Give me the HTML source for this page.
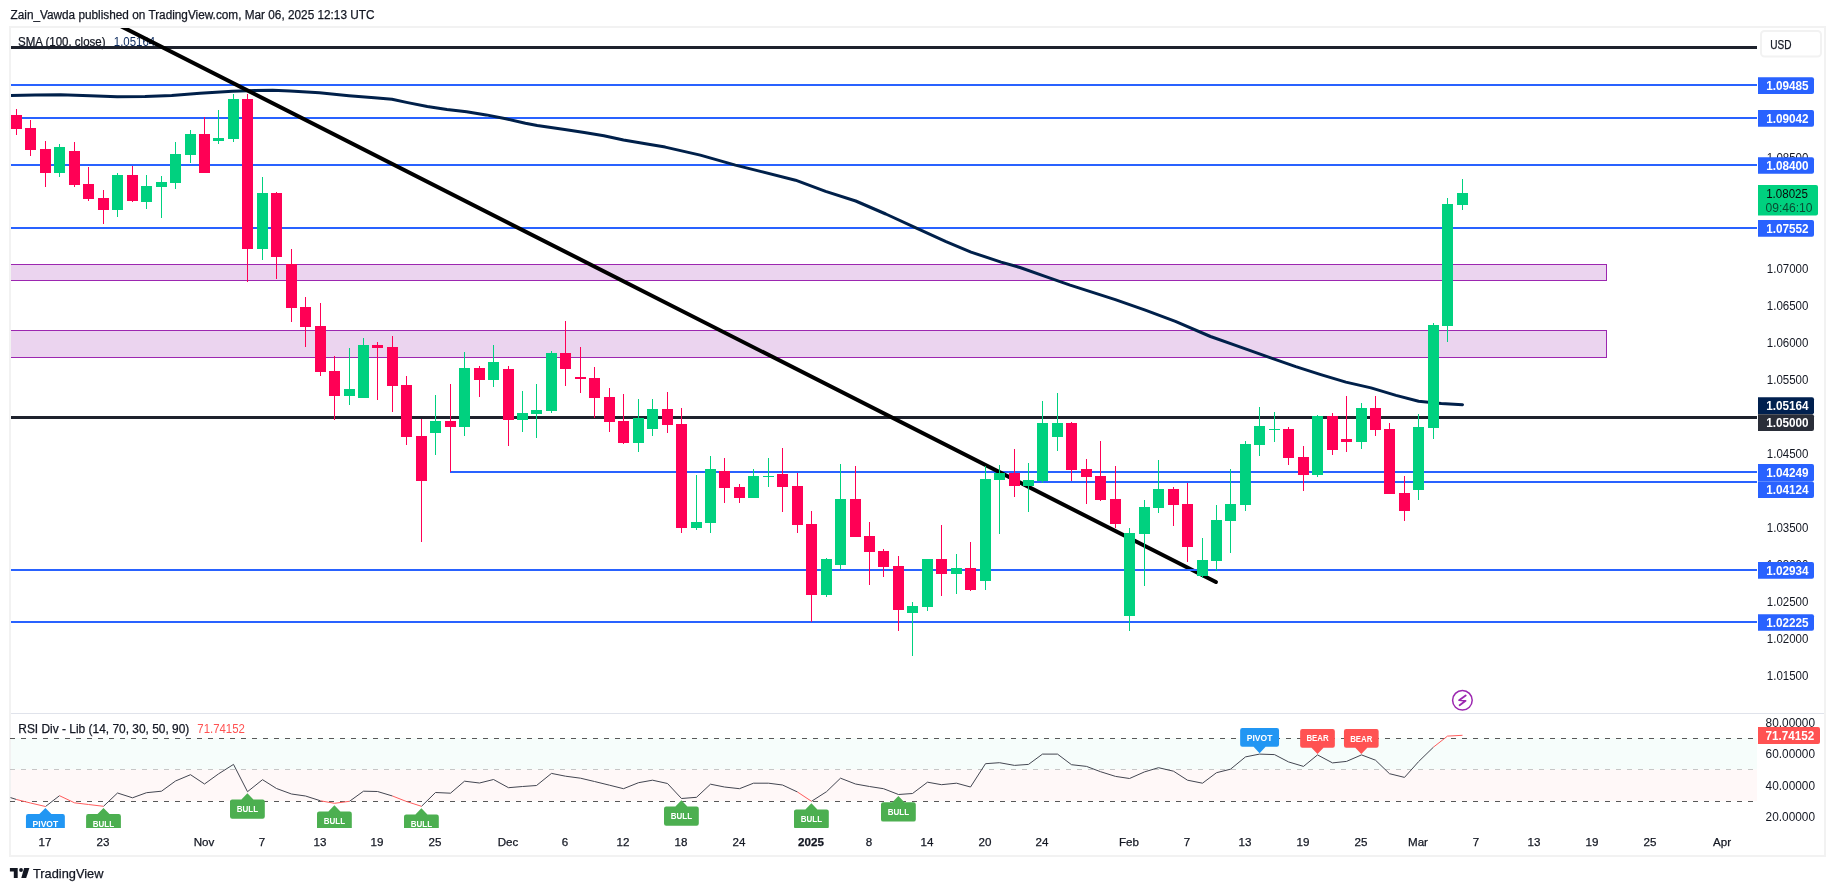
<!DOCTYPE html>
<html><head><meta charset="utf-8"><title>EURUSD chart</title>
<style>html,body{margin:0;padding:0;background:#fff}body{width:1835px;height:891px;position:relative;overflow:hidden;font-family:"Liberation Sans", sans-serif}</style>
</head><body>
<svg width="1835" height="891" viewBox="0 0 1835 891" style="position:absolute;left:0;top:0;will-change:transform" font-family='"Liberation Sans", sans-serif'>
<rect width="1835" height="891" fill="#fff"/>
<text x="10.5" y="19.2" font-size="12" fill="#131722" stroke="#131722" stroke-width="0.25" textLength="364" lengthAdjust="spacingAndGlyphs">Zain_Vawda published on TradingView.com, Mar 06, 2025 12:13 UTC</text>
<rect x="10" y="27" width="1815" height="829" fill="none" stroke="#f2f2f2" stroke-width="2"/>
<text x="18" y="45.6" font-size="12" fill="#131722" stroke="#131722" stroke-width="0.25" textLength="87.5" lengthAdjust="spacingAndGlyphs">SMA (100, close)</text>
<text x="113.8" y="45.6" font-size="12" fill="#0c2a5e" textLength="41.4" lengthAdjust="spacingAndGlyphs">1.05164</text>
<g>
<rect x="11" y="738" width="1746" height="31.5" fill="#f6fdfb"/>
<rect x="11" y="769.5" width="1746" height="31.5" fill="#fff8f8"/>
<line x1="10" y1="738.5" x2="1757" y2="738.5" stroke="#585858" stroke-width="1" stroke-dasharray="5 6"/>
<line x1="10" y1="769.5" x2="1757" y2="769.5" stroke="#c6c6c6" stroke-width="1" stroke-dasharray="5 6"/>
<line x1="10" y1="801.5" x2="1757" y2="801.5" stroke="#585858" stroke-width="1" stroke-dasharray="5 6"/>
<text x="18.3" y="732.8" font-size="12" fill="#131722" stroke="#131722" stroke-width="0.25" textLength="171" lengthAdjust="spacingAndGlyphs">RSI Div - Lib (14, 70, 30, 50, 90)</text>
<text x="197.3" y="732.8" font-size="12" fill="#ff5252" textLength="47.6" lengthAdjust="spacingAndGlyphs">71.74152</text>
<polyline fill="none" stroke="#434651" stroke-width="1" stroke-linejoin="round" points="10.5,797.6 16.5,799.5"/>
<polyline fill="none" stroke="#434651" stroke-width="1" stroke-linejoin="round" points="45.5,806.5 59.5,795.7"/>
<polyline fill="none" stroke="#434651" stroke-width="1" stroke-linejoin="round" points="103.5,806.3 117.5,793.0 132.5,797.8 146.5,792.7 161.5,791.2 175.5,781.0 190.5,774.7 204.5,784.0 218.5,773.9 233.5,764.4 247.5,791.7 262.5,779.7 276.5,788.5 291.5,794.0 305.5,796.0 320.5,800.8"/>
<polyline fill="none" stroke="#434651" stroke-width="1" stroke-linejoin="round" points="349.5,801.3 363.5,791.2 377.5,791.5 392.5,796.0"/>
<polyline fill="none" stroke="#434651" stroke-width="1" stroke-linejoin="round" points="421.5,806.3 435.5,792.5 450.5,793.2 464.5,781.2 479.5,783.0 493.5,779.5 508.5,787.7 522.5,786.5 536.5,785.5 551.5,773.4 565.5,776.2 580.5,778.2 594.5,781.5 609.5,785.2 623.5,788.7 638.5,782.7 652.5,780.2 667.5,783.5 681.5,798.5 696.5,797.3 710.5,784.2 724.5,787.0 739.5,788.7 753.5,783.2 768.5,783.2 782.5,785.0 797.5,792.0"/>
<polyline fill="none" stroke="#434651" stroke-width="1" stroke-linejoin="round" points="811.5,801.3 826.5,791.7 840.5,778.2 855.5,784.0 869.5,786.5 883.5,788.7 898.5,794.5 912.5,793.5 927.5,782.2 941.5,784.7 956.5,783.2 970.5,787.0 985.5,763.7 999.5,762.7 1014.5,765.4 1028.5,764.4 1042.5,754.1 1057.5,754.1 1071.5,764.7 1086.5,766.4 1100.5,771.7 1115.5,776.4 1129.5,778.5 1144.5,771.9 1158.5,767.7 1173.5,771.2 1187.5,780.2 1202.5,783.2 1216.5,772.7 1230.5,769.2 1245.5,756.9 1259.5,754.1 1274.5,754.6 1288.5,761.9 1303.5,766.4 1317.5,754.9 1332.5,762.9 1346.5,761.4 1361.5,754.9 1375.5,760.2 1389.5,773.7 1404.5,777.4 1418.5,761.7 1433.5,747.1"/>
<polyline fill="none" stroke="#ff5c5c" stroke-width="1" stroke-linejoin="round" points="16.5,799.5 30.5,803.0 45.5,806.5"/>
<polyline fill="none" stroke="#ff5c5c" stroke-width="1" stroke-linejoin="round" points="59.5,795.7 74.5,802.8 88.5,804.5 103.5,806.3"/>
<polyline fill="none" stroke="#ff5c5c" stroke-width="1" stroke-linejoin="round" points="320.5,800.8 334.5,803.3 349.5,801.3"/>
<polyline fill="none" stroke="#ff5c5c" stroke-width="1" stroke-linejoin="round" points="392.5,796.0 406.5,801.5 421.5,806.3"/>
<polyline fill="none" stroke="#ff5c5c" stroke-width="1" stroke-linejoin="round" points="797.5,792.0 811.5,801.3"/>
<polyline fill="none" stroke="#ff5c5c" stroke-width="1" stroke-linejoin="round" points="1433.5,747.1 1447.5,736.1 1462.5,735.3"/>
</g>
<defs><clipPath id="cp"><rect x="11" y="28" width="1746" height="685"/></clipPath></defs>
<rect x="5.5" y="264.5" width="1601.0" height="16.0" fill="#ebd4ef" stroke="#9c27b0" stroke-width="1" clip-path="url(#cp)"/>
<rect x="5.5" y="330.5" width="1601.0" height="27.0" fill="#ebd4ef" stroke="#9c27b0" stroke-width="1" clip-path="url(#cp)"/>
<line x1="11" y1="85" x2="1757" y2="85" stroke="#2962ff" stroke-width="2"/>
<line x1="11" y1="118" x2="1757" y2="118" stroke="#2962ff" stroke-width="2"/>
<line x1="11" y1="165" x2="1757" y2="165" stroke="#2962ff" stroke-width="2"/>
<line x1="11" y1="228" x2="1757" y2="228" stroke="#2962ff" stroke-width="2"/>
<line x1="450" y1="472" x2="1757" y2="472" stroke="#2962ff" stroke-width="2"/>
<line x1="1029" y1="482" x2="1757" y2="482" stroke="#2962ff" stroke-width="2"/>
<line x1="11" y1="622" x2="1757" y2="622" stroke="#2962ff" stroke-width="2"/>
<line x1="11" y1="47.5" x2="1757" y2="47.5" stroke="#1e222d" stroke-width="3"/>
<line x1="11" y1="417.5" x2="1757" y2="417.5" stroke="#1e222d" stroke-width="3"/>
<path id="sma" fill="none" stroke="#00204a" stroke-width="3" stroke-linecap="round" stroke-linejoin="round" clip-path="url(#cp)" d="M10,95.6 L35,95.1 L60.6,94.8 L90,95.8 L117.2,96.8 L145,96.4 L171.7,95.4 L200,93.3 L232.3,91.3 L255,90.5 L272.7,90.2 L290,90.9 L319.4,92.8 L348.9,95.7 L374.4,97.7 L392,99.2 L407.7,102.6 L427.3,106.5 L447,109.4 L466.6,111.8 L486.2,114.9 L505.8,118.8 L525.4,123.2 L537.2,125.5 L564.7,129.4 L584.3,132.6 L603.9,135.8 L623.5,140 L650,144.6 L665.2,147.1 L700.3,155.1 L735.4,165.1 L760.4,171.4 L795.5,180.2 L825.6,191.4 L855.7,201 L885.8,214 L915.9,227.8 L946,241.6 L971,252.1 L1001.1,262.1 L1020,267.5 L1045.1,276.3 L1070.1,285.1 L1115.3,299.6 L1145.3,310.2 L1175.4,321.4 L1210.5,336.5 L1235.6,345.3 L1270.7,357.8 L1295.8,366.6 L1320.8,374.6 L1345.9,382.1 L1371,387.9 L1396,395.4 L1418.6,401.2 L1441.2,403.4 L1462.5,404.7"/>
<line x1="120.5" y1="26" x2="1215.9" y2="582" stroke="#000" stroke-width="4" stroke-linecap="round" clip-path="url(#cp)"/>
<line x1="11" y1="570" x2="1757" y2="570" stroke="#2962ff" stroke-width="2"/>
<rect x="16" y="109.0" width="1" height="26.0" fill="#ff0055"/>
<rect x="11" y="115.0" width="11" height="14.0" fill="#ff0055"/>
<rect x="30" y="120.0" width="1" height="36.0" fill="#ff0055"/>
<rect x="25" y="128.0" width="11" height="22.0" fill="#ff0055"/>
<rect x="45" y="141.0" width="1" height="46.0" fill="#ff0055"/>
<rect x="40" y="149.0" width="11" height="24.0" fill="#ff0055"/>
<rect x="59" y="144.0" width="1" height="33.0" fill="#00d17f"/>
<rect x="54" y="147.0" width="11" height="26.0" fill="#00d17f"/>
<rect x="74" y="142.0" width="1" height="45.0" fill="#ff0055"/>
<rect x="69" y="151.0" width="11" height="34.0" fill="#ff0055"/>
<rect x="88" y="167.0" width="1" height="34.0" fill="#ff0055"/>
<rect x="83" y="184.0" width="11" height="15.0" fill="#ff0055"/>
<rect x="103" y="190.0" width="1" height="34.0" fill="#ff0055"/>
<rect x="98" y="198.0" width="11" height="12.0" fill="#ff0055"/>
<rect x="117" y="173.0" width="1" height="44.0" fill="#00d17f"/>
<rect x="112" y="175.0" width="11" height="35.0" fill="#00d17f"/>
<rect x="132" y="166.0" width="1" height="36.0" fill="#ff0055"/>
<rect x="127" y="175.0" width="11" height="26.0" fill="#ff0055"/>
<rect x="146" y="175.0" width="1" height="34.0" fill="#00d17f"/>
<rect x="141" y="186.0" width="11" height="16.0" fill="#00d17f"/>
<rect x="161" y="176.0" width="1" height="42.0" fill="#00d17f"/>
<rect x="156" y="182.0" width="11" height="5.0" fill="#00d17f"/>
<rect x="175" y="142.0" width="1" height="47.0" fill="#00d17f"/>
<rect x="170" y="154.0" width="11" height="29.0" fill="#00d17f"/>
<rect x="190" y="130.0" width="1" height="33.0" fill="#00d17f"/>
<rect x="185" y="134.0" width="11" height="21.0" fill="#00d17f"/>
<rect x="204" y="117.0" width="1" height="56.0" fill="#ff0055"/>
<rect x="199" y="134.0" width="11" height="39.0" fill="#ff0055"/>
<rect x="218" y="110.0" width="1" height="34.0" fill="#00d17f"/>
<rect x="213" y="138.0" width="11" height="3.0" fill="#00d17f"/>
<rect x="233" y="94.0" width="1" height="48.0" fill="#00d17f"/>
<rect x="228" y="99.0" width="11" height="40.0" fill="#00d17f"/>
<rect x="247" y="94.0" width="1" height="188.0" fill="#ff0055"/>
<rect x="242" y="99.0" width="11" height="150.0" fill="#ff0055"/>
<rect x="262" y="177.0" width="1" height="83.0" fill="#00d17f"/>
<rect x="257" y="193.0" width="11" height="56.0" fill="#00d17f"/>
<rect x="276" y="192.0" width="1" height="87.0" fill="#ff0055"/>
<rect x="271" y="193.0" width="11" height="64.0" fill="#ff0055"/>
<rect x="291" y="249.0" width="1" height="73.0" fill="#ff0055"/>
<rect x="286" y="264.0" width="11" height="44.0" fill="#ff0055"/>
<rect x="305" y="297.0" width="1" height="50.0" fill="#ff0055"/>
<rect x="300" y="307.0" width="11" height="20.0" fill="#ff0055"/>
<rect x="320" y="303.0" width="1" height="73.0" fill="#ff0055"/>
<rect x="315" y="326.0" width="11" height="46.0" fill="#ff0055"/>
<rect x="334" y="356.0" width="1" height="64.0" fill="#ff0055"/>
<rect x="329" y="371.0" width="11" height="25.0" fill="#ff0055"/>
<rect x="349" y="348.0" width="1" height="57.0" fill="#00d17f"/>
<rect x="344" y="389.0" width="11" height="7.0" fill="#00d17f"/>
<rect x="363" y="338.0" width="1" height="60.0" fill="#00d17f"/>
<rect x="358" y="345.0" width="11" height="53.0" fill="#00d17f"/>
<rect x="377" y="342.0" width="1" height="58.0" fill="#ff0055"/>
<rect x="372" y="345.0" width="11" height="3.0" fill="#ff0055"/>
<rect x="392" y="336.0" width="1" height="76.0" fill="#ff0055"/>
<rect x="387" y="347.0" width="11" height="39.0" fill="#ff0055"/>
<rect x="406" y="376.0" width="1" height="69.0" fill="#ff0055"/>
<rect x="401" y="385.0" width="11" height="52.0" fill="#ff0055"/>
<rect x="421" y="419.0" width="1" height="123.0" fill="#ff0055"/>
<rect x="416" y="436.0" width="11" height="45.0" fill="#ff0055"/>
<rect x="435" y="395.0" width="1" height="60.0" fill="#00d17f"/>
<rect x="430" y="421.0" width="11" height="12.0" fill="#00d17f"/>
<rect x="450" y="384.0" width="1" height="88.0" fill="#ff0055"/>
<rect x="445" y="421.0" width="11" height="6.0" fill="#ff0055"/>
<rect x="464" y="352.0" width="1" height="84.0" fill="#00d17f"/>
<rect x="459" y="368.0" width="11" height="59.0" fill="#00d17f"/>
<rect x="479" y="366.0" width="1" height="31.0" fill="#ff0055"/>
<rect x="474" y="368.0" width="11" height="12.0" fill="#ff0055"/>
<rect x="493" y="345.0" width="1" height="42.0" fill="#00d17f"/>
<rect x="488" y="362.0" width="11" height="18.0" fill="#00d17f"/>
<rect x="508" y="366.0" width="1" height="80.0" fill="#ff0055"/>
<rect x="503" y="369.0" width="11" height="51.0" fill="#ff0055"/>
<rect x="522" y="391.0" width="1" height="41.0" fill="#00d17f"/>
<rect x="517" y="413.0" width="11" height="7.0" fill="#00d17f"/>
<rect x="536" y="384.0" width="1" height="54.0" fill="#00d17f"/>
<rect x="531" y="410.0" width="11" height="4.0" fill="#00d17f"/>
<rect x="551" y="351.0" width="1" height="62.0" fill="#00d17f"/>
<rect x="546" y="353.0" width="11" height="58.0" fill="#00d17f"/>
<rect x="565" y="321.0" width="1" height="65.0" fill="#ff0055"/>
<rect x="560" y="353.0" width="11" height="16.0" fill="#ff0055"/>
<rect x="580" y="347.0" width="1" height="46.0" fill="#ff0055"/>
<rect x="575" y="377.0" width="11" height="2.0" fill="#ff0055"/>
<rect x="594" y="367.0" width="1" height="51.0" fill="#ff0055"/>
<rect x="589" y="378.0" width="11" height="20.0" fill="#ff0055"/>
<rect x="609" y="388.0" width="1" height="44.0" fill="#ff0055"/>
<rect x="604" y="397.0" width="11" height="25.0" fill="#ff0055"/>
<rect x="623" y="394.0" width="1" height="50.0" fill="#ff0055"/>
<rect x="618" y="421.0" width="11" height="22.0" fill="#ff0055"/>
<rect x="638" y="399.0" width="1" height="53.0" fill="#00d17f"/>
<rect x="633" y="418.0" width="11" height="25.0" fill="#00d17f"/>
<rect x="652" y="399.0" width="1" height="37.0" fill="#00d17f"/>
<rect x="647" y="409.0" width="11" height="20.0" fill="#00d17f"/>
<rect x="667" y="392.0" width="1" height="41.0" fill="#ff0055"/>
<rect x="662" y="409.0" width="11" height="16.0" fill="#ff0055"/>
<rect x="681" y="408.0" width="1" height="125.0" fill="#ff0055"/>
<rect x="676" y="424.0" width="11" height="104.0" fill="#ff0055"/>
<rect x="696" y="475.0" width="1" height="55.0" fill="#00d17f"/>
<rect x="691" y="522.0" width="11" height="6.0" fill="#00d17f"/>
<rect x="710" y="456.0" width="1" height="77.0" fill="#00d17f"/>
<rect x="705" y="469.0" width="11" height="54.0" fill="#00d17f"/>
<rect x="724" y="458.0" width="1" height="45.0" fill="#ff0055"/>
<rect x="719" y="471.0" width="11" height="17.0" fill="#ff0055"/>
<rect x="739" y="484.0" width="1" height="19.0" fill="#ff0055"/>
<rect x="734" y="487.0" width="11" height="11.0" fill="#ff0055"/>
<rect x="753" y="469.0" width="1" height="29.0" fill="#00d17f"/>
<rect x="748" y="476.0" width="11" height="22.0" fill="#00d17f"/>
<rect x="768" y="458.0" width="1" height="29.0" fill="#00d17f"/>
<rect x="763" y="476.0" width="11" height="1.0" fill="#00d17f"/>
<rect x="782" y="448.0" width="1" height="64.0" fill="#ff0055"/>
<rect x="777" y="474.0" width="11" height="13.0" fill="#ff0055"/>
<rect x="797" y="473.0" width="1" height="60.0" fill="#ff0055"/>
<rect x="792" y="486.0" width="11" height="39.0" fill="#ff0055"/>
<rect x="811" y="511.0" width="1" height="111.0" fill="#ff0055"/>
<rect x="806" y="524.0" width="11" height="71.0" fill="#ff0055"/>
<rect x="826" y="558.0" width="1" height="39.0" fill="#00d17f"/>
<rect x="821" y="559.0" width="11" height="36.0" fill="#00d17f"/>
<rect x="840" y="464.0" width="1" height="105.0" fill="#00d17f"/>
<rect x="835" y="499.0" width="11" height="66.0" fill="#00d17f"/>
<rect x="855" y="466.0" width="1" height="71.0" fill="#ff0055"/>
<rect x="850" y="499.0" width="11" height="38.0" fill="#ff0055"/>
<rect x="869" y="522.0" width="1" height="63.0" fill="#ff0055"/>
<rect x="864" y="536.0" width="11" height="16.0" fill="#ff0055"/>
<rect x="883" y="549.0" width="1" height="28.0" fill="#ff0055"/>
<rect x="878" y="551.0" width="11" height="16.0" fill="#ff0055"/>
<rect x="898" y="556.0" width="1" height="75.0" fill="#ff0055"/>
<rect x="893" y="566.0" width="11" height="44.0" fill="#ff0055"/>
<rect x="912" y="602.0" width="1" height="54.0" fill="#00d17f"/>
<rect x="907" y="606.0" width="11" height="7.0" fill="#00d17f"/>
<rect x="927" y="559.0" width="1" height="52.0" fill="#00d17f"/>
<rect x="922" y="559.0" width="11" height="48.0" fill="#00d17f"/>
<rect x="941" y="525.0" width="1" height="71.0" fill="#ff0055"/>
<rect x="936" y="559.0" width="11" height="15.0" fill="#ff0055"/>
<rect x="956" y="554.0" width="1" height="40.0" fill="#00d17f"/>
<rect x="951" y="568.0" width="11" height="6.0" fill="#00d17f"/>
<rect x="970" y="542.0" width="1" height="49.0" fill="#ff0055"/>
<rect x="965" y="568.0" width="11" height="22.0" fill="#ff0055"/>
<rect x="985" y="466.0" width="1" height="124.0" fill="#00d17f"/>
<rect x="980" y="479.0" width="11" height="102.0" fill="#00d17f"/>
<rect x="999" y="465.0" width="1" height="69.0" fill="#00d17f"/>
<rect x="994" y="473.0" width="11" height="7.0" fill="#00d17f"/>
<rect x="1014" y="449.0" width="1" height="48.0" fill="#ff0055"/>
<rect x="1009" y="473.0" width="11" height="13.0" fill="#ff0055"/>
<rect x="1028" y="463.0" width="1" height="49.0" fill="#00d17f"/>
<rect x="1023" y="480.0" width="11" height="6.0" fill="#00d17f"/>
<rect x="1042" y="401.0" width="1" height="82.0" fill="#00d17f"/>
<rect x="1037" y="423.0" width="11" height="58.0" fill="#00d17f"/>
<rect x="1057" y="393.0" width="1" height="58.0" fill="#00d17f"/>
<rect x="1052" y="423.0" width="11" height="14.0" fill="#00d17f"/>
<rect x="1071" y="422.0" width="1" height="59.0" fill="#ff0055"/>
<rect x="1066" y="423.0" width="11" height="47.0" fill="#ff0055"/>
<rect x="1086" y="459.0" width="1" height="45.0" fill="#ff0055"/>
<rect x="1081" y="469.0" width="11" height="8.0" fill="#ff0055"/>
<rect x="1100" y="441.0" width="1" height="60.0" fill="#ff0055"/>
<rect x="1095" y="476.0" width="11" height="24.0" fill="#ff0055"/>
<rect x="1115" y="466.0" width="1" height="62.0" fill="#ff0055"/>
<rect x="1110" y="499.0" width="11" height="25.0" fill="#ff0055"/>
<rect x="1129" y="528.0" width="1" height="103.0" fill="#00d17f"/>
<rect x="1124" y="533.0" width="11" height="83.0" fill="#00d17f"/>
<rect x="1144" y="500.0" width="1" height="86.0" fill="#00d17f"/>
<rect x="1139" y="507.0" width="11" height="27.0" fill="#00d17f"/>
<rect x="1158" y="460.0" width="1" height="53.0" fill="#00d17f"/>
<rect x="1153" y="489.0" width="11" height="19.0" fill="#00d17f"/>
<rect x="1173" y="487.0" width="1" height="39.0" fill="#ff0055"/>
<rect x="1168" y="489.0" width="11" height="16.0" fill="#ff0055"/>
<rect x="1187" y="483.0" width="1" height="79.0" fill="#ff0055"/>
<rect x="1182" y="504.0" width="11" height="43.0" fill="#ff0055"/>
<rect x="1202" y="538.0" width="1" height="40.0" fill="#00d17f"/>
<rect x="1197" y="560.0" width="11" height="16.0" fill="#00d17f"/>
<rect x="1216" y="505.0" width="1" height="66.0" fill="#00d17f"/>
<rect x="1211" y="520.0" width="11" height="41.0" fill="#00d17f"/>
<rect x="1230" y="469.0" width="1" height="84.0" fill="#00d17f"/>
<rect x="1225" y="504.0" width="11" height="17.0" fill="#00d17f"/>
<rect x="1245" y="441.0" width="1" height="70.0" fill="#00d17f"/>
<rect x="1240" y="444.0" width="11" height="61.0" fill="#00d17f"/>
<rect x="1259" y="407.0" width="1" height="49.0" fill="#00d17f"/>
<rect x="1254" y="426.0" width="11" height="19.0" fill="#00d17f"/>
<rect x="1274" y="412.0" width="1" height="30.0" fill="#00d17f"/>
<rect x="1269" y="429.0" width="11" height="1.0" fill="#00d17f"/>
<rect x="1288" y="427.0" width="1" height="38.0" fill="#ff0055"/>
<rect x="1283" y="429.0" width="11" height="29.0" fill="#ff0055"/>
<rect x="1303" y="446.0" width="1" height="45.0" fill="#ff0055"/>
<rect x="1298" y="457.0" width="11" height="18.0" fill="#ff0055"/>
<rect x="1317" y="415.0" width="1" height="62.0" fill="#00d17f"/>
<rect x="1312" y="416.0" width="11" height="59.0" fill="#00d17f"/>
<rect x="1332" y="413.0" width="1" height="42.0" fill="#ff0055"/>
<rect x="1327" y="416.0" width="11" height="34.0" fill="#ff0055"/>
<rect x="1346" y="396.0" width="1" height="56.0" fill="#ff0055"/>
<rect x="1341" y="439.0" width="11" height="3.0" fill="#ff0055"/>
<rect x="1361" y="403.0" width="1" height="46.0" fill="#00d17f"/>
<rect x="1356" y="408.0" width="11" height="34.0" fill="#00d17f"/>
<rect x="1375" y="396.0" width="1" height="40.0" fill="#ff0055"/>
<rect x="1370" y="408.0" width="11" height="22.0" fill="#ff0055"/>
<rect x="1389" y="423.0" width="1" height="71.0" fill="#ff0055"/>
<rect x="1384" y="429.0" width="11" height="65.0" fill="#ff0055"/>
<rect x="1404" y="476.0" width="1" height="45.0" fill="#ff0055"/>
<rect x="1399" y="493.0" width="11" height="18.0" fill="#ff0055"/>
<rect x="1418" y="414.0" width="1" height="86.0" fill="#00d17f"/>
<rect x="1413" y="427.0" width="11" height="63.0" fill="#00d17f"/>
<rect x="1433" y="323.0" width="1" height="116.0" fill="#00d17f"/>
<rect x="1428" y="325.0" width="11" height="103.0" fill="#00d17f"/>
<rect x="1447" y="198.0" width="1" height="144.0" fill="#00d17f"/>
<rect x="1442" y="204.0" width="11" height="122.0" fill="#00d17f"/>
<rect x="1462" y="179.0" width="1" height="31.0" fill="#00d17f"/>
<rect x="1457" y="193.0" width="11" height="12.0" fill="#00d17f"/>
<defs><clipPath id="cpr"><rect x="10" y="714" width="1747" height="114"/></clipPath></defs>
<g clip-path="url(#cpr)"><path d="M45.4,808 L51.4,814.1 H62.64999999999999 Q64.85,814.1 64.85,816.3000000000001 V831.1999999999999 Q64.85,833.4 62.64999999999999,833.4 H28.15 Q25.95,833.4 25.95,831.1999999999999 V816.3000000000001 Q25.95,814.1 28.15,814.1 H39.4 Z" fill="#2196f3"/><text x="32.6" y="826.8" font-size="9.3" font-weight="bold" fill="#fff" textLength="25.6" lengthAdjust="spacingAndGlyphs">PIVOT</text></g>
<g clip-path="url(#cpr)"><path d="M103.5,808 L109.5,814.1 H118.69999999999999 Q120.89999999999999,814.1 120.89999999999999,816.3000000000001 V831.1999999999999 Q120.89999999999999,833.4 118.69999999999999,833.4 H88.3 Q86.1,833.4 86.1,831.1999999999999 V816.3000000000001 Q86.1,814.1 88.3,814.1 H97.5 Z" fill="#4caf50"/><text x="92.8" y="826.8" font-size="9.3" font-weight="bold" fill="#fff" textLength="21.3" lengthAdjust="spacingAndGlyphs">BULL</text></g>
<g clip-path="url(#cpr)"><path d="M247.4,793.2 L253.4,799.5 H262.6 Q264.8,799.5 264.8,801.7 V816.5 Q264.8,818.7 262.6,818.7 H232.2 Q230.0,818.7 230.0,816.5 V801.7 Q230.0,799.5 232.2,799.5 H241.4 Z" fill="#4caf50"/><text x="236.8" y="812.2" font-size="9.3" font-weight="bold" fill="#fff" textLength="21.3" lengthAdjust="spacingAndGlyphs">BULL</text></g>
<g clip-path="url(#cpr)"><path d="M334.4,805.3 L340.4,811.5 H349.6 Q351.8,811.5 351.8,813.7 V828.5 Q351.8,830.7 349.6,830.7 H319.2 Q317.0,830.7 317.0,828.5 V813.7 Q317.0,811.5 319.2,811.5 H328.4 Z" fill="#4caf50"/><text x="323.8" y="824.2" font-size="9.3" font-weight="bold" fill="#fff" textLength="21.3" lengthAdjust="spacingAndGlyphs">BULL</text></g>
<g clip-path="url(#cpr)"><path d="M421.4,808.3 L427.4,814.5 H436.6 Q438.8,814.5 438.8,816.7 V831.5 Q438.8,833.7 436.6,833.7 H406.2 Q404.0,833.7 404.0,831.5 V816.7 Q404.0,814.5 406.2,814.5 H415.4 Z" fill="#4caf50"/><text x="410.8" y="827.2" font-size="9.3" font-weight="bold" fill="#fff" textLength="21.3" lengthAdjust="spacingAndGlyphs">BULL</text></g>
<g clip-path="url(#cpr)"><path d="M681.4,800.3 L687.4,806.5 H696.5999999999999 Q698.8,806.5 698.8,808.7 V823.5999999999999 Q698.8,825.8 696.5999999999999,825.8 H666.2 Q664.0,825.8 664.0,823.5999999999999 V808.7 Q664.0,806.5 666.2,806.5 H675.4 Z" fill="#4caf50"/><text x="670.8" y="819.2" font-size="9.3" font-weight="bold" fill="#fff" textLength="21.3" lengthAdjust="spacingAndGlyphs">BULL</text></g>
<g clip-path="url(#cpr)"><path d="M811.4,803.3 L817.4,809.4 H826.5999999999999 Q828.8,809.4 828.8,811.6 V826.4999999999999 Q828.8,828.6999999999999 826.5999999999999,828.6999999999999 H796.2 Q794.0,828.6999999999999 794.0,826.4999999999999 V811.6 Q794.0,809.4 796.2,809.4 H805.4 Z" fill="#4caf50"/><text x="800.8" y="822.1" font-size="9.3" font-weight="bold" fill="#fff" textLength="21.3" lengthAdjust="spacingAndGlyphs">BULL</text></g>
<g clip-path="url(#cpr)"><path d="M898.4,796 L904.4,802.3 H913.5999999999999 Q915.8,802.3 915.8,804.5 V819.3999999999999 Q915.8,821.5999999999999 913.5999999999999,821.5999999999999 H883.2 Q881.0,821.5999999999999 881.0,819.3999999999999 V804.5 Q881.0,802.3 883.2,802.3 H892.4 Z" fill="#4caf50"/><text x="887.8" y="815.0" font-size="9.3" font-weight="bold" fill="#fff" textLength="21.3" lengthAdjust="spacingAndGlyphs">BULL</text></g>
<g clip-path="url(#cpr)"><path d="M1259.6,753.2 L1253.6,746.8000000000001 H1242.35 Q1240.1499999999999,746.8000000000001 1240.1499999999999,744.6 V730.3000000000001 Q1240.1499999999999,728.1 1242.35,728.1 H1276.85 Q1279.05,728.1 1279.05,730.3000000000001 V744.6 Q1279.05,746.8000000000001 1276.85,746.8000000000001 H1265.6 Z" fill="#2196f3"/><text x="1246.8" y="740.8" font-size="9.3" font-weight="bold" fill="#fff" textLength="25.6" lengthAdjust="spacingAndGlyphs">PIVOT</text></g>
<g clip-path="url(#cpr)"><path d="M1317.5,754.1 L1311.5,747.8 H1302.3500000000001 Q1300.15,747.8 1300.15,745.5999999999999 V731.2 Q1300.15,729 1302.3500000000001,729 H1332.65 Q1334.8500000000001,729 1334.8500000000001,731.2 V745.5999999999999 Q1334.8500000000001,747.8 1332.65,747.8 H1323.5 Z" fill="#ff5252"/><text x="1306.4" y="740.9" font-size="9.3" font-weight="bold" fill="#fff" textLength="22.2" lengthAdjust="spacingAndGlyphs">BEAR</text></g>
<g clip-path="url(#cpr)"><path d="M1361.3,754.1 L1355.3,747.8 H1346.15 Q1343.95,747.8 1343.95,745.5999999999999 V731.2 Q1343.95,729 1346.15,729 H1376.45 Q1378.65,729 1378.65,731.2 V745.5999999999999 Q1378.65,747.8 1376.45,747.8 H1367.3 Z" fill="#ff5252"/><text x="1350.2" y="741.9" font-size="9.3" font-weight="bold" fill="#fff" textLength="22.2" lengthAdjust="spacingAndGlyphs">BEAR</text></g>
<circle cx="1462.4" cy="700.3" r="9.8" fill="#fff" stroke="#9c27b0" stroke-width="1.5"/>
<polyline points="1465.7,695.5 1459.1,700.2 1465.6,700.8 1459.6,705.3" fill="none" stroke="#9c27b0" stroke-width="1.8" stroke-linejoin="round" stroke-linecap="round"/>
<rect x="1757.5" y="28.5" width="66.5" height="826.5" fill="#fff"/>
<line x1="11" y1="713.5" x2="1824" y2="713.5" stroke="#e0e3eb" stroke-width="1"/>
<text x="1766.8" y="161.7" font-size="12" fill="#131722" textLength="41.6" lengthAdjust="spacingAndGlyphs">1.08500</text>
<text x="1766.8" y="272.7" font-size="12" fill="#131722" textLength="41.6" lengthAdjust="spacingAndGlyphs">1.07000</text>
<text x="1766.8" y="309.7" font-size="12" fill="#131722" textLength="41.6" lengthAdjust="spacingAndGlyphs">1.06500</text>
<text x="1766.8" y="346.7" font-size="12" fill="#131722" textLength="41.6" lengthAdjust="spacingAndGlyphs">1.06000</text>
<text x="1766.8" y="383.7" font-size="12" fill="#131722" textLength="41.6" lengthAdjust="spacingAndGlyphs">1.05500</text>
<text x="1766.8" y="457.7" font-size="12" fill="#131722" textLength="41.6" lengthAdjust="spacingAndGlyphs">1.04500</text>
<text x="1766.8" y="531.7" font-size="12" fill="#131722" textLength="41.6" lengthAdjust="spacingAndGlyphs">1.03500</text>
<text x="1766.8" y="568.7" font-size="12" fill="#131722" textLength="41.6" lengthAdjust="spacingAndGlyphs">1.03000</text>
<text x="1766.8" y="605.7" font-size="12" fill="#131722" textLength="41.6" lengthAdjust="spacingAndGlyphs">1.02500</text>
<text x="1766.8" y="642.7" font-size="12" fill="#131722" textLength="41.6" lengthAdjust="spacingAndGlyphs">1.02000</text>
<text x="1766.8" y="679.7" font-size="12" fill="#131722" textLength="41.6" lengthAdjust="spacingAndGlyphs">1.01500</text>
<text x="1765.6" y="726.9" font-size="12" fill="#131722" textLength="49.4" lengthAdjust="spacingAndGlyphs">80.00000</text>
<text x="1765.6" y="758.2" font-size="12" fill="#131722" textLength="49.4" lengthAdjust="spacingAndGlyphs">60.00000</text>
<text x="1765.6" y="789.9" font-size="12" fill="#131722" textLength="49.4" lengthAdjust="spacingAndGlyphs">40.00000</text>
<text x="1765.6" y="821.0" font-size="12" fill="#131722" textLength="49.4" lengthAdjust="spacingAndGlyphs">20.00000</text>
<path d="M1758,77.3 H1812 Q1814,77.3 1814,79.3 V91.9 Q1814,93.9 1812,93.9 H1758 Z" fill="#2962ff"/>
<text x="1766.2" y="89.9" font-size="12" font-weight="bold" fill="#fff" textLength="42.4" lengthAdjust="spacingAndGlyphs">1.09485</text>
<path d="M1758,110.1 H1812 Q1814,110.1 1814,112.1 V124.7 Q1814,126.7 1812,126.7 H1758 Z" fill="#2962ff"/>
<text x="1766.2" y="122.7" font-size="12" font-weight="bold" fill="#fff" textLength="42.4" lengthAdjust="spacingAndGlyphs">1.09042</text>
<path d="M1758,157.3 H1812 Q1814,157.3 1814,159.3 V171.7 Q1814,173.7 1812,173.7 H1758 Z" fill="#2962ff"/>
<text x="1766.2" y="169.8" font-size="12" font-weight="bold" fill="#fff" textLength="42.4" lengthAdjust="spacingAndGlyphs">1.08400</text>
<path d="M1758,220 H1812 Q1814,220 1814,222 V234.8 Q1814,236.8 1812,236.8 H1758 Z" fill="#2962ff"/>
<text x="1766.2" y="232.7" font-size="12" font-weight="bold" fill="#fff" textLength="42.4" lengthAdjust="spacingAndGlyphs">1.07552</text>
<path d="M1758,397.2 H1812 Q1814,397.2 1814,399.2 V412.3 Q1814,414.3 1812,414.3 H1758 Z" fill="#00204f"/>
<text x="1766.2" y="410.1" font-size="12" font-weight="bold" fill="#fff" textLength="42.4" lengthAdjust="spacingAndGlyphs">1.05164</text>
<path d="M1758,414.3 H1812 Q1814,414.3 1814,416.3 V429.1 Q1814,431.1 1812,431.1 H1758 Z" fill="#2a2e39"/>
<text x="1766.2" y="427.0" font-size="12" font-weight="bold" fill="#fff" textLength="42.4" lengthAdjust="spacingAndGlyphs">1.05000</text>
<path d="M1758,463.9 H1812 Q1814,463.9 1814,465.9 V479.4 Q1814,481.4 1812,481.4 H1758 Z" fill="#2962ff"/>
<text x="1766.2" y="476.9" font-size="12" font-weight="bold" fill="#fff" textLength="42.4" lengthAdjust="spacingAndGlyphs">1.04249</text>
<path d="M1758,481.4 H1812 Q1814,481.4 1814,483.4 V496 Q1814,498 1812,498 H1758 Z" fill="#2962ff"/>
<text x="1766.2" y="494.0" font-size="12" font-weight="bold" fill="#fff" textLength="42.4" lengthAdjust="spacingAndGlyphs">1.04124</text>
<path d="M1758,562 H1812 Q1814,562 1814,564 V576.8 Q1814,578.8 1812,578.8 H1758 Z" fill="#2962ff"/>
<text x="1766.2" y="574.7" font-size="12" font-weight="bold" fill="#fff" textLength="42.4" lengthAdjust="spacingAndGlyphs">1.02934</text>
<path d="M1758,614.2 H1812 Q1814,614.2 1814,616.2 V628.8 Q1814,630.8 1812,630.8 H1758 Z" fill="#2962ff"/>
<text x="1766.2" y="626.8" font-size="12" font-weight="bold" fill="#fff" textLength="42.4" lengthAdjust="spacingAndGlyphs">1.02225</text>
<path d="M1758,727 H1818 Q1820,727 1820,729 V742 Q1820,744 1818,744 H1758 Z" fill="#ff5252"/>
<text x="1765.4" y="739.8" font-size="12" font-weight="bold" fill="#fff" textLength="48.8" lengthAdjust="spacingAndGlyphs">71.74152</text>
<path d="M1758,185 H1816 Q1818,185 1818,187 V213.5 Q1818,215.5 1816,215.5 H1758 Z" fill="#00d17f"/>
<text x="1766.2" y="198" font-size="12" fill="#0a0a0a" textLength="41.8" lengthAdjust="spacingAndGlyphs">1.08025</text>
<text x="1765.5" y="212.2" font-size="12" fill="#084d33" textLength="47" lengthAdjust="spacingAndGlyphs">09:46:10</text>
<rect x="1761" y="31" width="60" height="25.5" rx="3.5" fill="#fff" stroke="#f2f2f2" stroke-width="2"/>
<text x="1770.2" y="48.8" font-size="12" fill="#131722" stroke="#131722" stroke-width="0.25" textLength="21.2" lengthAdjust="spacingAndGlyphs">USD</text>
<text x="45.0" y="846" font-size="11.6" fill="#131722" stroke="#131722" stroke-width="0.25" text-anchor="middle">17</text>
<text x="103.0" y="846" font-size="11.6" fill="#131722" stroke="#131722" stroke-width="0.25" text-anchor="middle">23</text>
<text x="204.0" y="846" font-size="11.6" fill="#131722" stroke="#131722" stroke-width="0.25" text-anchor="middle">Nov</text>
<text x="262.0" y="846" font-size="11.6" fill="#131722" stroke="#131722" stroke-width="0.25" text-anchor="middle">7</text>
<text x="320.0" y="846" font-size="11.6" fill="#131722" stroke="#131722" stroke-width="0.25" text-anchor="middle">13</text>
<text x="377.0" y="846" font-size="11.6" fill="#131722" stroke="#131722" stroke-width="0.25" text-anchor="middle">19</text>
<text x="435.0" y="846" font-size="11.6" fill="#131722" stroke="#131722" stroke-width="0.25" text-anchor="middle">25</text>
<text x="508.0" y="846" font-size="11.6" fill="#131722" stroke="#131722" stroke-width="0.25" text-anchor="middle">Dec</text>
<text x="565.0" y="846" font-size="11.6" fill="#131722" stroke="#131722" stroke-width="0.25" text-anchor="middle">6</text>
<text x="623.0" y="846" font-size="11.6" fill="#131722" stroke="#131722" stroke-width="0.25" text-anchor="middle">12</text>
<text x="681.0" y="846" font-size="11.6" fill="#131722" stroke="#131722" stroke-width="0.25" text-anchor="middle">18</text>
<text x="739.0" y="846" font-size="11.6" fill="#131722" stroke="#131722" stroke-width="0.25" text-anchor="middle">24</text>
<text x="811.0" y="846" font-size="11.6" fill="#131722" stroke="#131722" stroke-width="0.25" text-anchor="middle" font-weight="bold">2025</text>
<text x="869.0" y="846" font-size="11.6" fill="#131722" stroke="#131722" stroke-width="0.25" text-anchor="middle">8</text>
<text x="927.0" y="846" font-size="11.6" fill="#131722" stroke="#131722" stroke-width="0.25" text-anchor="middle">14</text>
<text x="985.0" y="846" font-size="11.6" fill="#131722" stroke="#131722" stroke-width="0.25" text-anchor="middle">20</text>
<text x="1042.0" y="846" font-size="11.6" fill="#131722" stroke="#131722" stroke-width="0.25" text-anchor="middle">24</text>
<text x="1129.0" y="846" font-size="11.6" fill="#131722" stroke="#131722" stroke-width="0.25" text-anchor="middle">Feb</text>
<text x="1187.0" y="846" font-size="11.6" fill="#131722" stroke="#131722" stroke-width="0.25" text-anchor="middle">7</text>
<text x="1245.0" y="846" font-size="11.6" fill="#131722" stroke="#131722" stroke-width="0.25" text-anchor="middle">13</text>
<text x="1303.0" y="846" font-size="11.6" fill="#131722" stroke="#131722" stroke-width="0.25" text-anchor="middle">19</text>
<text x="1361.0" y="846" font-size="11.6" fill="#131722" stroke="#131722" stroke-width="0.25" text-anchor="middle">25</text>
<text x="1418.0" y="846" font-size="11.6" fill="#131722" stroke="#131722" stroke-width="0.25" text-anchor="middle">Mar</text>
<text x="1476.0" y="846" font-size="11.6" fill="#131722" stroke="#131722" stroke-width="0.25" text-anchor="middle">7</text>
<text x="1534.0" y="846" font-size="11.6" fill="#131722" stroke="#131722" stroke-width="0.25" text-anchor="middle">13</text>
<text x="1592.0" y="846" font-size="11.6" fill="#131722" stroke="#131722" stroke-width="0.25" text-anchor="middle">19</text>
<text x="1650.0" y="846" font-size="11.6" fill="#131722" stroke="#131722" stroke-width="0.25" text-anchor="middle">25</text>
<text x="1722.0" y="846" font-size="11.6" fill="#131722" stroke="#131722" stroke-width="0.25" text-anchor="middle">Apr</text>
<path d="M9.9,868.1 H17.7 V877.9 H13.8 V871.6 H9.9 Z" fill="#131722"/>
<circle cx="21.05" cy="870" r="1.9" fill="#131722"/>
<path d="M24.1,868.1 H29.4 L26.2,877.9 H21.3 Z" fill="#131722"/>
<text x="33" y="877.9" font-size="13" fill="#131722" stroke="#131722" stroke-width="0.25" textLength="70.4" lengthAdjust="spacingAndGlyphs">TradingView</text>
</svg>
</body></html>
